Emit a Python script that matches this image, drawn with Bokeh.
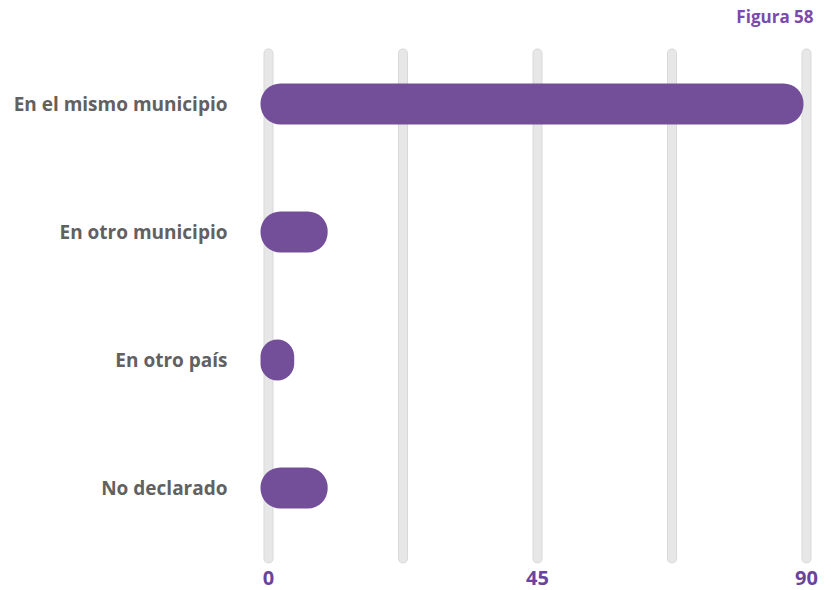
from bokeh.plotting import figure
from bokeh.models import Range1d, ColumnDataSource
from bokeh.core.properties import value
from bokeh.embed import file_html
from bokeh.resources import INLINE

# ---- data ----
categories = ["En el mismo municipio", "En otro municipio", "En otro país", "No declarado"]
values = [89.5, 9.9, 4.3, 9.9]
x_ticks = [0, 45, 90]
grid_positions = [0, 22.5, 45, 67.5, 90]
title_text = "Figura 58"

# ---- layout constants (pixels) ----
W, H = 831, 590
X0_PX = 268            # pixel of value 0
X_SCALE = 538 / 90     # px per unit
Y0_PX = 103.5          # pixel of first category centre
Y_STEP = 128           # px between categories

def dx(px):
    return (px - X0_PX) / X_SCALE

def dy(py):
    return (py - Y0_PX) / Y_STEP

p = figure(width=W, height=H, output_backend="svg", toolbar_location=None,
           x_range=Range1d(dx(0), dx(W)), y_range=Range1d(dy(H), dy(0)),
           min_border=0, min_border_left=0, min_border_right=0,
           min_border_top=0, min_border_bottom=0)
p.axis.visible = False
p.grid.visible = False
p.outline_line_color = None
p.background_fill_color = "white"
p.border_fill_color = "white"

# grid lines (rounded)
gsrc = ColumnDataSource(dict(x=grid_positions,
                             y0=[dy(53)] * len(grid_positions),
                             y1=[dy(558)] * len(grid_positions)))
p.segment(x0="x", y0="y0", x1="x", y1="y1", source=gsrc,
          line_width=10, line_color="#d9d9d9", line_cap="round")
p.segment(x0="x", y0="y0", x1="x", y1="y1", source=gsrc,
          line_width=8, line_color="#e7e7e7", line_cap="round")

# bars
cap_offset = 8 / X_SCALE
ys = list(range(len(categories)))
bsrc = ColumnDataSource(dict(y=ys, right=values, left=[-cap_offset] * len(values)))
p.hbar(y="y", left="left", right="right", height=41 / Y_STEP, source=bsrc,
       fill_color="#724f98", line_color=None, border_radius=20)

# category labels
lsrc = ColumnDataSource(dict(x=[dx(227)] * len(categories), y=ys, t=categories))
p.text(x="x", y="y", text="t", source=lsrc, text_align="right",
       text_baseline="middle", text_font=value("Open Sans"),
       text_font_style="bold", text_font_size="19px", text_color="#616161")

# x tick labels
tsrc = ColumnDataSource(dict(x=x_ticks, y=[dy(577)] * len(x_ticks),
                             t=[str(t) for t in x_ticks]))
p.text(x="x", y="y", text="t", source=tsrc, text_align="center",
       text_baseline="middle", text_font=value("Open Sans"),
       text_font_style="bold", text_font_size="20px", text_color="#6a449c")

# title
p.text(x=[dx(813)], y=[dy(16)], text=[title_text], text_align="right",
       text_baseline="middle", text_font=value("Open Sans"),
       text_font_style="bold", text_font_size="17px", text_color="#7b4aab")

open("out.html", "w").write(file_html(p, INLINE))
